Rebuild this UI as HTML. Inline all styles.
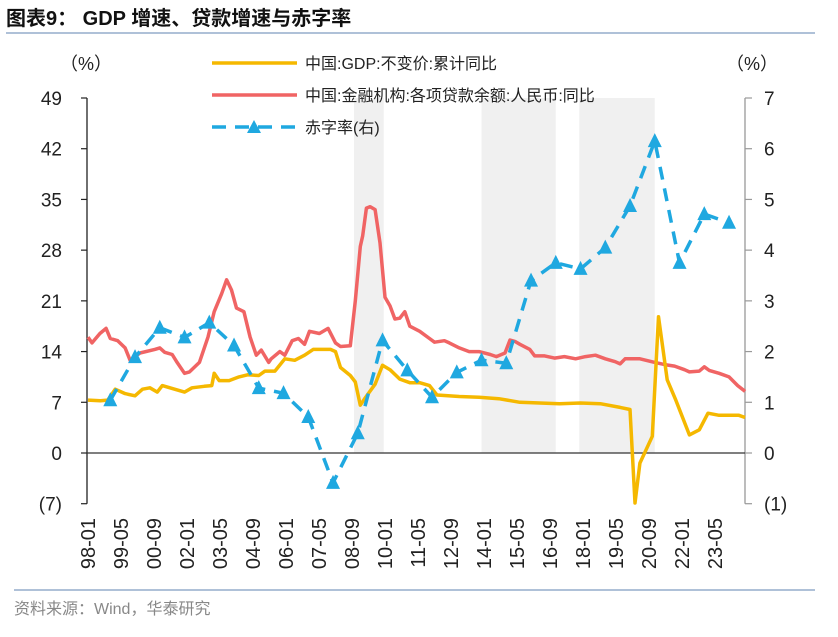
<!DOCTYPE html>
<html><head><meta charset="utf-8"><style>
body{margin:0;background:#fff;}
svg text{font-family:"Liberation Sans","Noto Sans CJK SC",sans-serif;}
</style></head><body>
<svg id="chart" width="838" height="632" viewBox="0 0 838 632" xmlns="http://www.w3.org/2000/svg">
<text x="6" y="25" font-size="20" font-weight="bold" fill="#111">图表9：  GDP 增速、贷款增速与赤字率</text>
<line x1="6" y1="33" x2="815" y2="33" stroke="#7f9cc0" stroke-width="1.2"/>
<line x1="14" y1="590" x2="815" y2="590" stroke="#7f9cc0" stroke-width="1.2"/>
<text x="14" y="614" font-size="16" fill="#888">资料来源：Wind，华泰研究</text>
<g id="bands"></g><g id="axes"></g><g id="series"></g>
<g>
<line x1="212" y1="63" x2="297" y2="63" stroke="#f5b800" stroke-width="3.5"/>
<text x="305" y="69" font-size="16" fill="#222">中国:GDP:不变价:累计同比</text>
<line x1="212" y1="95" x2="297" y2="95" stroke="#f06464" stroke-width="3.5"/>
<text x="305" y="101" font-size="16" fill="#222">中国:金融机构:各项贷款余额:人民币:同比</text>
<line x1="212" y1="127" x2="297" y2="127" stroke="#1fa8e0" stroke-width="3.5" stroke-dasharray="14,9"/>
<polygon points="254,120 261,133 247,133" fill="#1fa8e0"/>
<text x="305" y="133" font-size="16" fill="#222">赤字率(右)</text>
</g>
<text x="60" y="70" font-size="18" fill="#222">（%）</text>
<text x="726" y="70" font-size="18" fill="#222">（%）</text>
</svg>
<script>
const leftTicks=[49,42,35,28,21,14,7,0,-7];
const rightTicks=[7,6,5,4,3,2,1,0,-1];
const xLabels=["98-01","99-05","00-09","02-01","03-05","04-09","06-01","07-05","08-09","10-01","11-05","12-09","14-01","15-05","16-09","18-01","19-05","20-09","22-01","23-05"];
const bandStart=[2008.75,2013.9,2017.85];
const bandEnd=[2009.95,2016.9,2020.9];
const loanT=[1998.0,1998.16,1998.48,1998.73,1998.9,1999.2,1999.5,1999.7,2000.1,2000.7,2000.9,2001.1,2001.4,2001.6,2001.9,2002.1,2002.5,2002.85,2003.1,2003.4,2003.6,2003.8,2004.0,2004.3,2004.55,2004.8,2005.0,2005.3,2005.4,2005.75,2005.95,2006.25,2006.5,2006.75,2006.95,2007.35,2007.7,2008.0,2008.2,2008.6,2008.8,2009.0,2009.1,2009.25,2009.4,2009.6,2009.8,2010.0,2010.2,2010.4,2010.6,2010.8,2011.0,2011.4,2011.8,2012.0,2012.4,2012.6,2013.0,2013.4,2013.8,2014.25,2014.5,2014.85,2015.05,2015.25,2015.45,2015.85,2016.05,2016.45,2016.85,2017.25,2017.7,2018.1,2018.5,2018.9,2019.3,2019.5,2019.7,2020.3,2020.9,2021.3,2021.7,2022.1,2022.3,2022.7,2022.9,2023.1,2023.5,2023.9,2024.25,2024.55];
const loanV=[16.0,15.2,16.5,17.2,15.8,15.5,14.5,12.8,13.8,14.3,14.5,13.9,13.6,12.5,11.0,11.2,12.5,16.0,19.5,22.0,23.9,22.5,20.0,19.5,16.0,13.5,14.2,12.5,13.0,14.0,13.5,15.5,15.8,15.0,16.8,16.5,17.2,15.2,14.7,14.8,21,28.5,30,33.8,34.0,33.6,29,21.5,20.3,18.5,18.6,19.5,17.5,16.8,15.8,15.3,15.5,15.2,14.5,14.0,14.0,13.6,13.3,13.8,15.6,15.4,15.0,14.3,13.4,13.4,13.1,13.3,13.0,13.3,13.5,13.0,12.6,12.3,13.0,13.0,12.5,12.2,12.0,11.5,11.2,11.3,11.9,11.4,11.0,10.5,9.3,8.5];
const gdpT=[1998.0,1998.5,1998.8,1999.1,1999.5,1999.9,2000.2,2000.5,2000.8,2001.0,2001.5,2001.9,2002.2,2002.7,2003.0,2003.1,2003.3,2003.7,2004.1,2004.45,2004.9,2005.15,2005.55,2005.95,2006.35,2006.75,2007.1,2007.8,2008.0,2008.2,2008.6,2008.8,2009.0,2009.2,2009.6,2009.9,2010.2,2010.6,2011.0,2011.4,2011.8,2012.1,2013.0,2013.8,2014.6,2015.45,2016.25,2017.05,2017.9,2018.7,2019.5,2019.9,2020.1,2020.3,2020.8,2021.05,2021.4,2021.75,2022.3,2022.7,2023.05,2023.5,2024.3,2024.55];
const gdpV=[7.3,7.2,7.3,8.8,8.2,7.9,8.8,9.0,8.4,9.3,8.8,8.4,9.0,9.2,9.3,11.0,10.0,10.0,10.5,10.8,10.7,11.3,11.3,13.0,12.8,13.5,14.3,14.3,14.0,11.8,10.7,9.8,6.6,7.6,9.5,12.1,11.5,10.2,9.7,9.7,9.3,8.0,7.8,7.7,7.5,7.0,6.9,6.8,6.9,6.8,6.3,6.0,-6.9,-1.4,2.3,18.8,10.1,7.3,2.5,3.2,5.5,5.2,5.2,4.9];
const deficitYears=[1998,1999,2000,2001,2002,2003,2004,2005,2006,2007,2008,2009,2010,2011,2012,2013,2014,2015,2016,2017,2018,2019,2020,2021,2022,2023];
const deficitV=[1.04,1.89,2.47,2.28,2.57,2.12,1.28,1.18,0.71,-0.59,0.39,2.22,1.63,1.1,1.59,1.83,1.77,3.4,3.75,3.63,4.05,4.87,6.15,3.75,4.71,4.54];

const NS="http://www.w3.org/2000/svg";
const X0=88,PXY=24.75,XL=87,XR=745,Y0=453,YT=98;
const x=t=>X0+(t-1998)*PXY;
const yL=v=>Y0-(v/49)*(Y0-YT);
const yR=v=>Y0-(v/7)*(Y0-YT);
function mk(tag,attrs,parent){const e=document.createElementNS(NS,tag);for(const k in attrs)e.setAttribute(k,attrs[k]);parent.appendChild(e);return e;}
const bands=document.getElementById('bands'),axes=document.getElementById('axes'),series=document.getElementById('series');
bandStart.forEach((s,i)=>{
 const r=mk('rect',{x:x(s),y:YT,width:x(bandEnd[i])-x(s),height:Y0-YT,fill:'#f0f0f0'},bands);
 
 
});
let e=mk('line',{x1:XL,y1:YT,x2:XL,y2:yL(-7),stroke:'#222','stroke-width':1.3},axes);


e=mk('line',{x1:XR,y1:YT,x2:XR,y2:yR(-1),stroke:'#999','stroke-width':1.3},axes);


e=mk('line',{x1:XL,y1:Y0,x2:XR,y2:Y0,stroke:'#333','stroke-width':1.3},axes);


leftTicks.forEach(v=>{
 mk('line',{x1:XL-6,y1:yL(v),x2:XL,y2:yL(v),stroke:'#222','stroke-width':1.2},axes);
 const t=mk('text',{x:62,y:yL(v)+7,'font-size':19,'text-anchor':'end',fill:'#222'},axes);
 t.textContent=v<0?'('+(-v)+')':v;
 
 
});
rightTicks.forEach(v=>{
 mk('line',{x1:XR,y1:yR(v),x2:XR+7,y2:yR(v),stroke:'#999','stroke-width':1.2},axes);
 const t=mk('text',{x:764,y:yR(v)+7,'font-size':19,fill:'#222'},axes);
 t.textContent=v<0?'('+(-v)+')':v;
 
 
});
xLabels.forEach((l,i)=>{
 const tx=x(1998+i*16/12);
 const t=mk('text',{x:0,y:0,'font-size':20,'text-anchor':'end',fill:'#222',transform:`translate(${tx+7},518) rotate(-90)`},axes);
 t.textContent=l;
 
 
});
function path(ts,vs,fy){return ts.map((t,i)=>(i?'L':'M')+x(t).toFixed(1)+','+fy(vs[i]).toFixed(1)).join(' ');}
e=mk('path',{d:path(loanT,loanV,yL),fill:'none',stroke:'#f06464','stroke-width':3.5,'stroke-linejoin':'round'},series);


e=mk('path',{d:path(gdpT,gdpV,yL),fill:'none',stroke:'#f5b800','stroke-width':3.5,'stroke-linejoin':'round'},series);


const dT=deficitYears.map(y=>y+0.9);
e=mk('path',{d:path(dT,deficitV,yR),fill:'none',stroke:'#1fa8e0','stroke-width':3.5,'stroke-dasharray':'13,9'},series);


dT.forEach((t,i)=>{
 const cx=x(t),cy=yR(deficitV[i]);
 const p=mk('polygon',{points:`${cx},${cy-8} ${cx+7},${cy+6} ${cx-7},${cy+6}`,fill:'#1fa8e0'},series);
 
 
});
</script>
</body></html>
